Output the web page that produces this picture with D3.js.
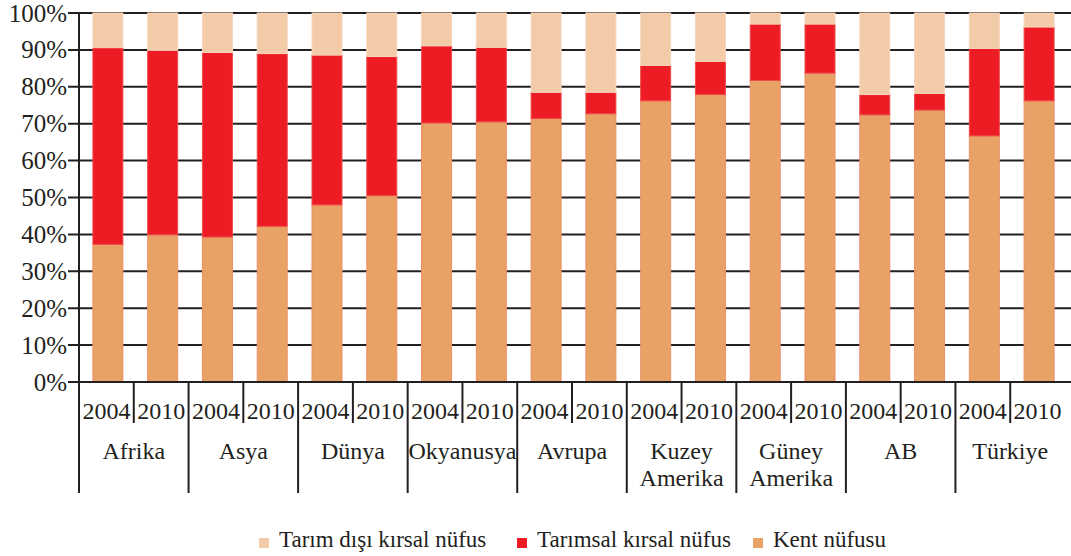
<!DOCTYPE html>
<html>
<head>
<meta charset="utf-8">
<script src="https://cdn.jsdelivr.net/npm/d3@7"></script>
<style>
  body { margin: 0; background: #fff; }
  text { font-family: "Liberation Serif", "Times New Roman", serif; fill: #231f20; }
</style>
</head>
<body>
<svg id="chart" width="1071" height="556"></svg>
<script>
// regions and years
var regions = ["Afrika", "Asya", "Dünya", "Okyanusya", "Avrupa", "Kuzey Amerika", "Güney Amerika", "AB", "Türkiye"];
var years = ["2004", "2010"];

// shares (%) per bar, order: region x year
var kentNufusu = [37.3, 39.9, 39.3, 42.2, 48.0, 50.5, 70.2, 70.5, 71.4, 72.7, 76.2, 77.9, 81.7, 83.7, 72.4, 73.7, 66.7, 76.2];
var tarimsalKirsal = [53.3, 50.0, 50.0, 46.8, 40.6, 37.7, 20.9, 20.2, 7.1, 5.8, 9.6, 9.0, 15.3, 13.3, 5.5, 4.5, 23.7, 20.0];
var tarimDisiKirsal = [9.4, 10.1, 10.7, 11.0, 11.4, 11.8, 8.9, 9.3, 21.5, 21.5, 14.2, 13.1, 3.0, 3.0, 22.1, 21.8, 9.6, 3.8];

var yTicks = [0, 10, 20, 30, 40, 50, 60, 70, 80, 90, 100];

var seriesNames = ["Kent nüfusu", "Tarımsal kırsal nüfus", "Tarım dışı kırsal nüfus"];
var seriesColors = { "Kent nüfusu": "#e9a265", "Tarımsal kırsal nüfus": "#ed1c24", "Tarım dışı kırsal nüfus": "#f4cba8" };
var seriesStroke = { "Kent nüfusu": "#ec9068", "Tarımsal kırsal nüfus": "#ef4a4c", "Tarım dışı kırsal nüfus": "#f6d6bd" };

var rows = [];
regions.forEach(function (r, i) {
  years.forEach(function (yr, j) {
    var k = i * 2 + j;
    rows.push({
      region: r, year: yr,
      "Kent nüfusu": kentNufusu[k],
      "Tarımsal kırsal nüfus": tarimsalKirsal[k],
      "Tarım dışı kırsal nüfus": tarimDisiKirsal[k]
    });
  });
});

var svg = d3.select("#chart");
var plotLeft = 79, plotRight = 1065, plotTop = 13, plotBottom = 382, axisEnd = 493;

var x0 = d3.scaleBand().domain(regions).range([plotLeft, plotRight]);
var x1 = d3.scaleBand().domain(years).range([0, x0.bandwidth()]);
var barW = 30;
var y = d3.scaleLinear().domain([0, 100]).range([plotBottom, plotTop]);

// gridlines
svg.append("g").selectAll("line")
  .data(yTicks)
  .enter().append("line")
  .attr("x1", plotLeft - 11).attr("x2", 1071)
  .attr("y1", function (d) { return y(d); })
  .attr("y2", function (d) { return y(d); })
  .attr("stroke", "#231f20")
  .attr("stroke-width", 2);

// y labels
svg.append("g").selectAll("text")
  .data(yTicks)
  .enter().append("text")
  .attr("x", plotLeft - 12)
  .attr("y", function (d) { return y(d); })
  .attr("dy", "0.34em")
  .style("text-anchor", "end")
  .style("font-size", "25px")
  .text(function (d) { return d + "%"; });

// stacked bars
var stack = d3.stack().keys(seriesNames)(rows);
svg.append("g").selectAll("g")
  .data(stack)
  .enter().append("g")
  .attr("fill", function (s) { return seriesColors[s.key]; })
  .attr("stroke", function (s) { return seriesStroke[s.key]; })
  .attr("stroke-width", 1)
  .selectAll("rect")
  .data(function (s) { return s; })
  .enter().append("rect")
  .attr("x", function (d) { return x0(d.data.region) + x1(d.data.year) + (x1.bandwidth() - barW) / 2 + 1.5; })
  .attr("width", barW)
  .attr("y", function (d) { return y(d[1]); })
  .attr("height", function (d) { return y(d[0]) - y(d[1]); });

// baseline + y axis
svg.append("line").attr("x1", plotLeft).attr("x2", 1071).attr("y1", plotBottom).attr("y2", plotBottom)
  .attr("stroke", "#231f20").attr("stroke-width", 2);
svg.append("line").attr("x1", plotLeft).attr("x2", plotLeft).attr("y1", plotTop - 1).attr("y2", axisEnd)
  .attr("stroke", "#231f20").attr("stroke-width", 2);

// group separators
svg.append("g").selectAll("line")
  .data(regions.slice(1))
  .enter().append("line")
  .attr("x1", function (d) { return x0(d); }).attr("x2", function (d) { return x0(d); })
  .attr("y1", plotBottom).attr("y2", axisEnd)
  .attr("stroke", "#231f20").attr("stroke-width", 2);

// year separators
svg.append("g").selectAll("line")
  .data(regions)
  .enter().append("line")
  .attr("x1", function (d) { return x0(d) + x1("2010"); }).attr("x2", function (d) { return x0(d) + x1("2010"); })
  .attr("y1", plotBottom).attr("y2", 423)
  .attr("stroke", "#231f20").attr("stroke-width", 2);

// year labels
svg.append("g").selectAll("text")
  .data(rows)
  .enter().append("text")
  .attr("x", function (d) { return x0(d.region) + x1(d.year) + x1.bandwidth() / 2; })
  .attr("y", 419)
  .style("text-anchor", "middle")
  .style("font-size", "24px")
  .text(function (d) { return d.year; });

// region labels (two lines where needed)
svg.append("g").selectAll("text")
  .data(regions)
  .enter().append("text")
  .attr("y", 459)
  .style("text-anchor", "middle")
  .style("font-size", "24px")
  .each(function (d) {
    var parts = d.split(" ");
    var t = d3.select(this);
    parts.forEach(function (p, i) {
      t.append("tspan")
        .attr("x", x0(d) + x0.bandwidth() / 2)
        .attr("dy", i === 0 ? 0 : 27)
        .text(p);
    });
  });

// legend
var legendItems = ["Tarım dışı kırsal nüfus", "Tarımsal kırsal nüfus", "Kent nüfusu"];
var legendX = [279, 537, 773];
var legend = svg.append("g").selectAll("g")
  .data(legendItems)
  .enter().append("g")
  .attr("transform", function (d, i) { return "translate(" + legendX[i] + " 547)"; });
legend.append("rect")
  .attr("x", -20).attr("y", -9)
  .attr("width", 10).attr("height", 10)
  .attr("fill", function (d) { return seriesColors[d]; });
legend.append("text")
  .attr("x", 0).attr("y", 0)
  .style("font-size", "23px")
  .text(function (d) { return d; });
</script>
</body>
</html>
